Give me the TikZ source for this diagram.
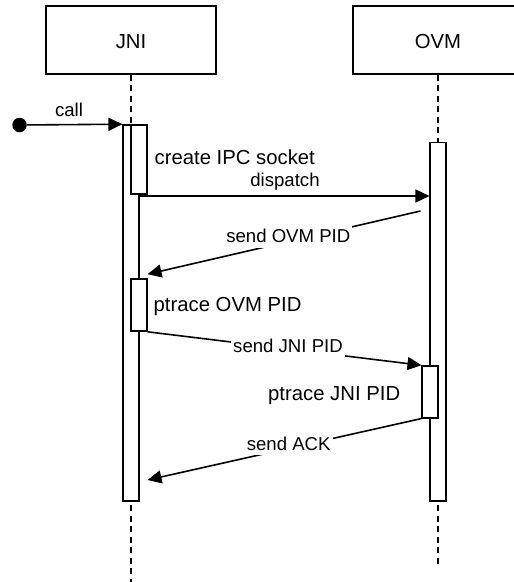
\documentclass[tikz,border=0pt]{standalone}
\usepackage{fontspec}
\setmainfont{Liberation Sans}
\usetikzlibrary{arrows.meta,calc}
\begin{document}
\begin{tikzpicture}[x=1pt,y=-1pt,
  every node/.style={font=\fontsize{20.3}{24}\selectfont},
  small/.style={font=\fontsize{18.6}{22}\selectfont},
  head/.style={draw, line width=1.6pt, minimum width=170pt, minimum height=68pt, inner sep=0pt,
    text height=16.6pt, text depth=0pt},
  life/.style={line width=1.6pt, dash pattern=on 6pt off 4.5pt},
  bar/.style={draw, fill=white, line width=1.6pt, minimum width=15.5pt, inner sep=0pt},
  msg/.style={line width=1.6pt, -{Triangle[length=14pt,width=13pt]}},
  txt/.style={inner sep=0pt},
  tag/.style={small, fill=white, inner xsep=2pt, inner ysep=0.5pt, text height=16pt, text depth=4.5pt},
]
\useasboundingbox (0,0) rectangle (514,582);
\clip (0,0) rectangle (514,582);

% participants and their lifelines
\node[head] (jni) at (131,40) {JNI};
\node[head] (ovm) at (438,40) {OVM};
\coordinate (jniEnd) at (131,582);
\coordinate (ovmEnd) at (438,568);
\draw[life] (jni.south) -- (jniEnd);
\draw[life] (ovm.south) -- (ovmEnd);

% activation bars
\node[bar, minimum height=376pt] (jmain) at (131,313) {};
\node[bar, minimum height=69pt] (jcreate) at (139,159.5) {};
\node[bar, minimum height=52pt] (jptrace) at (139,305) {};
\node[bar, minimum height=358.7pt] (omain) at (438,321.7) {};
\node[bar, minimum height=51.7pt] (optrace) at (430,391.9) {};

% initial call
\node[circle, fill, minimum size=14.5pt, inner sep=0pt] (start) at (19.5,125) {};
\draw[msg] (start) -- (jmain.north west);
\node[txt, small, anchor=base] (callLbl) at (69,116) {call};

% messages
\draw[msg] (jmain.east |- 0,196) -- (omain.west |- 0,196);
\draw[msg] ($(omain.west |- 0,211)+(-9,0)$) -- ([yshift=4pt]jptrace.north east);
\draw[msg] (jptrace.south east) -- (optrace.north west);
\draw[msg] (optrace.south west) -- ($(jmain.east |- 0,480)+(8,0)$);

% message labels
\node[txt, small, anchor=base] (dispLbl) at (285,186) {dispatch};
\node[tag, anchor=base] (ovmPid) at (288.3,242.5) {send OVM PID};
\node[tag, anchor=base] (jniPid) at (288,352.7) {send JNI PID};
\node[tag, anchor=base] (ackLbl) at (288.7,450) {send ACK};

% activity notes
\node[txt, anchor=base west] (createLbl) at (154.5,164.5) {create IPC socket};
\node[txt, anchor=base west] (ptOvm) at (153.5,311) {ptrace OVM PID};
\node[txt, anchor=base] (ptJni) at (334.2,400.5) {ptrace JNI PID};
\end{tikzpicture}
\end{document}
